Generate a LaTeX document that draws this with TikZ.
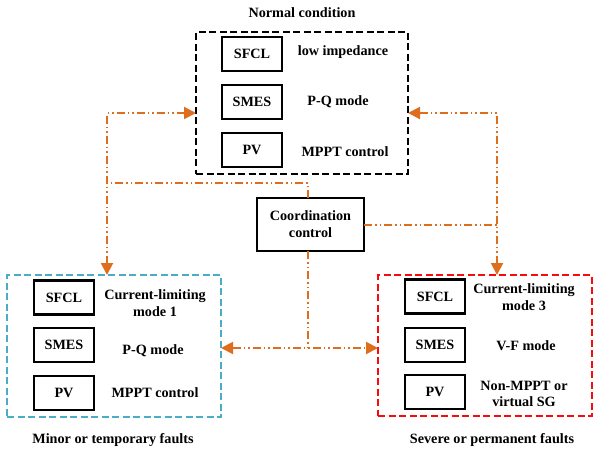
\documentclass[tikz,border=0pt]{standalone}
\usepackage{fontspec}
\setmainfont{Liberation Serif}
\usetikzlibrary{arrows.meta}
\definecolor{orng}{RGB}{222,110,30}
\definecolor{blu}{RGB}{75,172,198}
\definecolor{rd}{RGB}{250,10,10}
\begin{document}
\begin{tikzpicture}[x=1pt,y=-1pt,
  every node/.style={font=\fontsize{14.2}{16.8}\selectfont\bfseries, inner sep=0pt, outer sep=0pt},
  dbox/.style={draw, line width=2.2pt, dash pattern=on 7pt off 3.5pt, rectangle},
  ibox/.style={draw, line width=2.8pt, rectangle, minimum width=60pt, minimum height=34pt},
  cbox/.style={draw, line width=2.4pt, rectangle, minimum width=107pt, minimum height=53pt, align=center},
  lbl/.style={align=center},
  flow/.style={draw=orng, line width=2pt, dash pattern=on 8pt off 3pt on 1.5pt off 3pt on 1.5pt off 3pt},
  tips/.style={{Triangle[length=12pt,width=12pt]}-{Triangle[length=12pt,width=12pt]}}
]
\useasboundingbox (0,0) rectangle (593,450);

% main dashed boxes
\node[dbox, minimum width=212pt, minimum height=142pt] (T) at (302,103) {};
\node[dbox, draw=blu, minimum width=214pt, minimum height=142pt] (L) at (114,346) {};
\node[dbox, draw=rd, minimum width=214pt, minimum height=141pt] (R) at (485,345.5) {};
\node[cbox] (C) at (310.5,224.5) {Coordination\\control};

% titles
\node[lbl] (tN) at (302,13) {Normal condition};
\node[lbl] (tL) at (113,440) {Minor or temporary faults};
\node[lbl] (tR) at (492,440) {Severe or permanent faults};

% top inner boxes
\node[ibox] (tS) at (252,54) {SFCL};
\node[ibox] (tM) at (252,102) {SMES};
\node[ibox] (tP) at (252,150) {PV};
\node[lbl] (tSl) at (343,52) {low impedance};
\node[lbl] (tMl) at (338,102) {P-Q mode};
\node[lbl] (tPl) at (345,152) {MPPT control};

% left inner boxes
\node[ibox] (lS) at (64,297.5) {SFCL};
\node[ibox] (lM) at (64,345) {SMES};
\node[ibox] (lP) at (64,393) {PV};
\node[lbl] (lSl) at (155,303) {Current-limiting\\mode 1};
\node[lbl] (lMl) at (153,351) {P-Q mode};
\node[lbl] (lPl) at (155,393) {MPPT control};

% right inner boxes
\node[ibox] (rS) at (435,296.5) {SFCL};
\node[ibox] (rM) at (435,345) {SMES};
\node[ibox] (rP) at (435,392) {PV};
\node[lbl] (rSl) at (524,297) {Current-limiting\\mode 3};
\node[lbl] (rMl) at (526,346) {V-F mode};
\node[lbl] (rPl) at (524,394) {Non-MPPT or\\virtual SG};

% routing coordinates
\coordinate (ya) at (0,113);
\coordinate (yt) at (0,183);
\coordinate (yb) at (0,348);
\coordinate (jx) at (107,0);
\coordinate (jr) at (497,0);
\coordinate (jc) at (308,0);

% connectors
\draw[flow,tips] (T.west |- ya) -| (jx |- L.north);
\draw[flow,tips] (T.east |- ya) -| (jr |- R.north);
\draw[flow] (jc |- C.north) |- (jx |- yt);
\draw[flow] (C.east) -- (jr |- C.east);
\draw[flow] (jc |- C.south) -- (jc |- yb);
\draw[flow,tips] (L.east |- yb) -- (R.west |- yb);
\end{tikzpicture}
\end{document}
